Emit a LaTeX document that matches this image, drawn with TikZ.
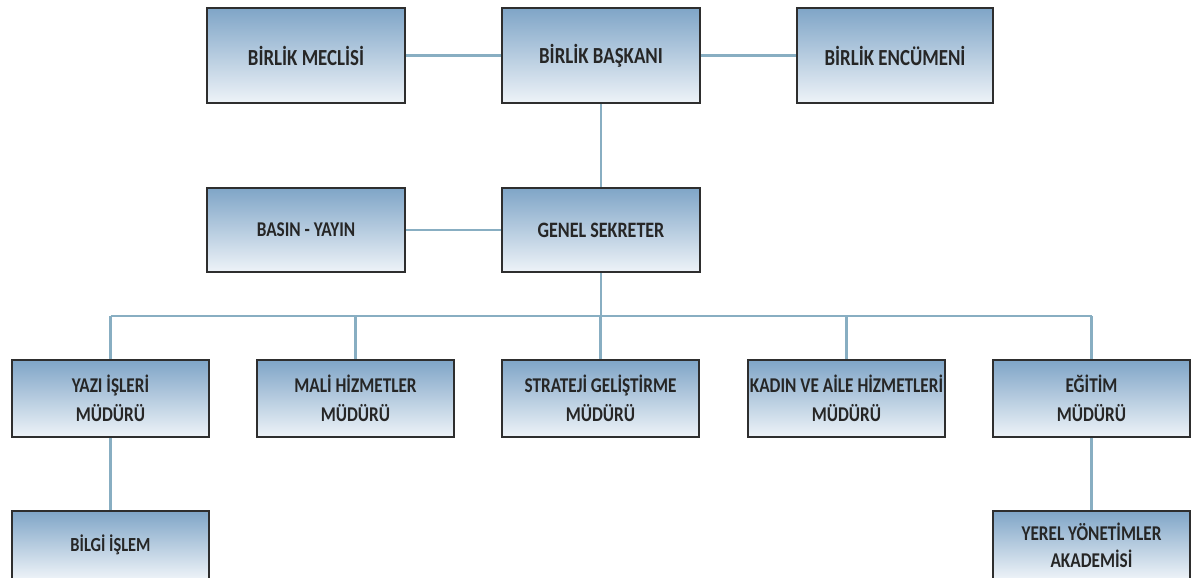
\documentclass[tikz,border=0pt]{standalone}
\usepackage{fontspec}
\newfontfamily\boxfont[FakeStretch=0.82]{Carlito}
\definecolor{boxtop}{HTML}{7FA5C7}
\definecolor{boxbot}{HTML}{EEF3F8}
\definecolor{linkc}{HTML}{88AEC2}
\definecolor{edge}{HTML}{2E2E2E}
\begin{document}
\begin{tikzpicture}[x=0.5pt,y=-0.5pt,
  orgbox/.style={draw=edge,line width=1.3pt,top color=boxtop,bottom color=boxbot,
     inner sep=0pt,align=center,font=\boxfont\bfseries,text=black!85},
  link/.style={draw=linkc,line width=1.1pt}]
\useasboundingbox (0,0) rectangle (1194,578);
\tikzset{r1/.style={orgbox,minimum width=99pt,minimum height=47.5pt,font=\boxfont\bfseries\fontsize{11.5}{13}\selectfont},
  r3/.style={orgbox,minimum width=98.5pt,minimum height=38.5pt,font=\boxfont\bfseries\fontsize{10.5}{14.5}\selectfont}}
% row 1
\node[r1] (meclis) at (306,55.5) {BİRLİK MECLİSİ};
\node[r1] (baskan) at (601,55.5) {BİRLİK BAŞKANI};
\node[r1,minimum width=98pt] (encumen) at (895,55.5) {BİRLİK ENCÜMENİ};
% row 2
\node[orgbox,minimum width=99pt,minimum height=42pt,font=\boxfont\bfseries\fontsize{10.5}{12}\selectfont] (basin) at (306,230) {BASIN - YAYIN};
\node[orgbox,minimum width=99pt,minimum height=42pt,font=\boxfont\bfseries\fontsize{11}{13}\selectfont] (genel) at (601,230) {GENEL SEKRETER};
% row 3
\node[r3] (yazi) at (110.5,398.5) {YAZI İŞLERİ\\MÜDÜRÜ};
\node[r3] (mali) at (355.5,398.5) {MALİ HİZMETLER\\MÜDÜRÜ};
\node[r3] (strateji) at (600.5,398.5) {STRATEJİ GELİŞTİRME\\MÜDÜRÜ};
\node[r3] (kadin) at (846.5,398.5) {KADIN VE AİLE HİZMETLERİ\\MÜDÜRÜ};
\node[r3] (egitim) at (1091.5,398.5) {EĞİTİM\\MÜDÜRÜ};
% row 4
\node[orgbox,minimum width=98.5pt,minimum height=34pt,font=\boxfont\bfseries\fontsize{10}{12}\selectfont] (bilgi) at (110.5,545) {BİLGİ İŞLEM};
\node[orgbox,minimum width=98.5pt,minimum height=34pt,font=\boxfont\bfseries\fontsize{10.5}{13.5}\selectfont] (yerel) at (1091.5,545) {YEREL YÖNETİMLER\\AKADEMİSİ};
% connectors
\draw[link] (meclis) -- (baskan);
\draw[link] (baskan) -- (encumen);
\draw[link] (baskan) -- (genel);
\draw[link] (basin) -- (genel);
\coordinate (busL) at (110.5,316);
\coordinate (busR) at (1091.5,316);
\draw[link] (genel.south) -- (genel.south |- busL);
\draw[link] (busL) -- (busR);
\draw[link] (busL) -- (yazi.north);
\draw[link] (mali.north |- busL) -- (mali.north);
\draw[link] (strateji.north |- busL) -- (strateji.north);
\draw[link] (kadin.north |- busL) -- (kadin.north);
\draw[link] (busR) -- (egitim.north);
\draw[link] (yazi) -- (bilgi);
\draw[link] (egitim) -- (yerel);
\end{tikzpicture}
\end{document}
